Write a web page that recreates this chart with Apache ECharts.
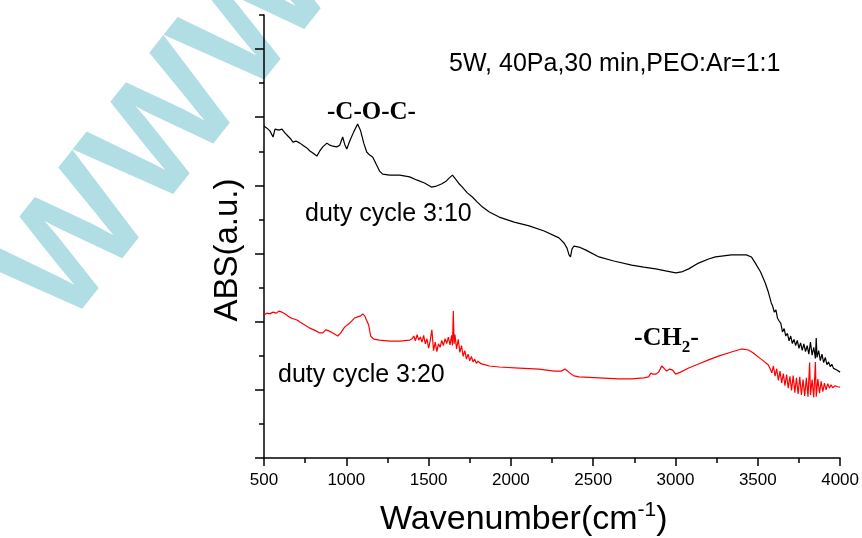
<!DOCTYPE html>
<html>
<head>
<meta charset="utf-8">
<script src="https://cdn.jsdelivr.net/npm/echarts@6/dist/echarts.min.js"></script>
<style>
  html, body { margin: 0; padding: 0; background: #fff; }
  #chart { width: 862px; height: 538px; }
</style>
</head>
<body>
<div id="chart"></div>
<script>
// 波数轴刻度
const xTicks = [500, 1000, 1500, 2000, 2500, 3000, 3500, 4000]
const yMajor = [0, 2, 4, 6, 8, 10, 12]
const yMinor = [1, 3, 5, 7, 9, 11, 13]

// duty cycle 3:10 (black)
const blackWave = [500, 518, 536, 555, 567, 591, 609, 627, 645, 663, 676, 694, 718, 736, 760, 779, 797, 821, 839, 857,
  882, 900, 918, 942, 960, 978, 990, 1003, 1021, 1045, 1069, 1087, 1106, 1124, 1142, 1160, 1178, 1202, 1221, 1263,
  1324, 1385, 1427, 1475, 1517, 1548, 1578, 1608, 1626, 1645, 1663, 1687, 1705, 1735, 1766, 1796, 1826, 1869, 1929, 2020,
  2111, 2202, 2292, 2323, 2341, 2353, 2362, 2371, 2383, 2414, 2456, 2535, 2625, 2734, 2807, 2880, 2940, 3001, 3037, 3080,
  3140, 3201, 3243, 3292, 3340, 3382, 3431, 3461, 3485, 3517, 3546, 3564, 3582,
  3590, 3600, 3610, 3620, 3630, 3640, 3650, 3660, 3670, 3680, 3690, 3700, 3710, 3720, 3730, 3740, 3750, 3760, 3770, 3780,
  3790, 3800, 3810, 3820, 3830, 3840, 3850, 3855, 3860, 3870, 3880, 3890, 3900, 3910, 3920, 3930, 3940, 3950, 3960, 3970,
  3980, 3990, 4000]
const blackAbs = [9.74, 9.68, 9.60, 9.42, 9.65, 9.62, 9.65, 9.54, 9.45, 9.36, 9.27, 9.30, 9.24, 9.18, 9.10, 9.01, 8.95, 8.86, 9.01, 9.13,
  9.24, 9.18, 9.15, 9.13, 9.18, 9.42, 9.21, 9.07, 9.30, 9.57, 9.80, 9.60, 9.24, 8.98, 8.89, 8.83, 8.66, 8.42, 8.33, 8.30,
  8.30, 8.25, 8.16, 8.07, 7.95, 7.98, 8.04, 8.13, 8.22, 8.30, 8.19, 8.04, 7.95, 7.78, 7.66, 7.51, 7.37, 7.22, 7.07, 6.92,
  6.81, 6.66, 6.46, 6.31, 6.16, 5.96, 5.90, 6.13, 6.22, 6.19, 6.10, 5.90, 5.78, 5.66, 5.60, 5.55, 5.49, 5.43, 5.46, 5.55,
  5.72, 5.84, 5.90, 5.93, 5.96, 5.96, 5.96, 5.90, 5.72, 5.46, 5.13, 4.87, 4.55,
  4.46, 4.28, 4.35, 4.10, 4.02, 3.95, 3.70, 3.80, 3.58, 3.66, 3.44, 3.58, 3.36, 3.48, 3.30, 3.45, 3.22, 3.38, 3.16, 3.35,
  3.12, 3.30, 3.05, 3.40, 3.02, 3.25, 2.92, 3.52, 2.95, 3.15, 2.86, 3.05, 2.80, 2.95, 2.74, 2.82, 2.68, 2.75, 2.63, 2.66,
  2.58, 2.56, 2.52]

// duty cycle 3:20 (red)
const redWave = [500, 518, 536, 555, 573, 591, 609, 627, 645, 663, 682, 700, 718, 748, 779, 815, 839, 857, 875, 894,
  918, 948, 966, 990, 1021, 1051, 1069, 1087, 1100, 1112, 1124, 1136, 1148, 1166, 1202, 1263, 1324, 1385,
  1400, 1410, 1420, 1430, 1440, 1450, 1460, 1470, 1480, 1490, 1500, 1510, 1520, 1530, 1540, 1550, 1560, 1570, 1580, 1590,
  1600, 1610, 1620, 1630, 1640, 1645, 1650, 1655, 1660, 1670, 1680, 1690, 1700, 1710, 1720, 1730, 1740, 1750, 1760, 1770,
  1780, 1790, 1800, 1820, 1840, 1869,
  1929, 2050, 2171, 2262, 2305, 2329, 2341, 2359, 2383, 2414, 2535, 2656, 2734, 2807, 2837, 2850, 2863, 2880, 2898, 2916,
  2929, 2946, 2965, 2983, 3001, 3031, 3080, 3140, 3201, 3261, 3340, 3401, 3443, 3473, 3504, 3534, 3564,
  3575, 3585, 3595, 3605, 3615, 3625, 3635, 3645, 3655, 3665, 3675, 3685, 3695, 3705, 3715, 3725, 3735, 3745, 3755, 3765,
  3775, 3785, 3795, 3805, 3815, 3820, 3830, 3840, 3850, 3855, 3865, 3875, 3885, 3895, 3905, 3915, 3925, 3935, 3945, 3955,
  3970, 3985, 4000]
const redAbs = [4.20, 4.25, 4.23, 4.28, 4.25, 4.31, 4.28, 4.23, 4.17, 4.11, 4.08, 4.05, 3.99, 3.90, 3.81, 3.73, 3.67, 3.67, 3.76, 3.73,
  3.67, 3.58, 3.67, 3.84, 3.96, 4.11, 4.14, 4.17, 4.23, 4.17, 4.20, 3.90, 3.58, 3.49, 3.46, 3.43, 3.43, 3.46,
  3.50, 3.58, 3.44, 3.62, 3.46, 3.55, 3.40, 3.60, 3.35, 3.50, 3.22, 3.45, 3.76, 3.15, 3.40, 3.12, 3.35, 3.25, 3.45, 3.30,
  3.50, 3.36, 3.55, 3.32, 3.60, 3.30, 4.31, 3.35, 3.62, 3.20, 3.48, 3.10, 3.30, 2.98, 3.15, 2.90, 3.05, 2.85, 2.98, 2.82,
  2.90, 2.78, 2.84, 2.76, 2.74, 2.70,
  2.67, 2.64, 2.61, 2.55, 2.55, 2.61, 2.58, 2.49, 2.41, 2.38, 2.35, 2.32, 2.32, 2.35, 2.38, 2.49, 2.46, 2.46, 2.52, 2.70,
  2.64, 2.55, 2.61, 2.58, 2.46, 2.52, 2.64, 2.76, 2.88, 2.99, 3.11, 3.20, 3.17, 3.08, 2.96, 2.85, 2.73,
  2.62, 2.50, 2.70, 2.40, 2.62, 2.28, 2.55, 2.20, 2.48, 2.12, 2.45, 2.05, 2.40, 1.98, 2.42, 1.92, 2.35, 1.88, 2.38, 1.85,
  2.30, 1.82, 2.35, 1.80, 2.80, 1.85, 2.30, 1.78, 2.82, 1.80, 2.32, 1.90, 2.25, 1.95, 2.20, 2.00, 2.18, 2.05, 2.15, 2.06,
  2.12, 2.09, 2.08]

const chart = echarts.init(document.getElementById('chart'))
const font = '"Liberation Sans", Arial, sans-serif'
const serif = '"Liberation Serif", "Times New Roman", serif'

const zip = (xs, ys) => xs.map((x, i) => [x, ys[i]])

const option = {
  animation: false,
  backgroundColor: '#fff',
  grid: { left: 264, right: 20, top: 15, bottom: 80 },
  xAxis: {
    type: 'value',
    min: 500,
    max: 4000,
    interval: 500,
    axisLine: { lineStyle: { color: '#000', width: 1.5 } },
    axisTick: { customValues: xTicks, length: 8, lineStyle: { color: '#000', width: 1.5 } },
    minorTick: { show: true, splitNumber: 2, length: 5, lineStyle: { color: '#000', width: 1.5 } },
    axisLabel: {
      customValues: xTicks,
      formatter: (v) => String(v),
      color: '#000',
      fontSize: 17,
      fontFamily: font,
      margin: 14
    },
    splitLine: { show: false }
  },
  yAxis: [
    {
      type: 'value',
      min: 0,
      max: 13,
      axisLine: { show: true, lineStyle: { color: '#000', width: 1.5 } },
      axisTick: { show: true, customValues: yMajor, length: 9, lineStyle: { color: '#000', width: 1.5 } },
      axisLabel: { show: false },
      splitLine: { show: false }
    },
    {
      type: 'value',
      min: 0,
      max: 13,
      position: 'left',
      axisLine: { show: false },
      axisTick: { show: true, customValues: yMinor, length: 5, lineStyle: { color: '#000', width: 1.5 } },
      axisLabel: { show: false },
      splitLine: { show: false }
    }
  ],
  graphic: [
    {
      type: 'text',
      z: -10,
      x: 168, y: 132,
      rotation: 0.9,
      style: {
        text: 'WWW',
        font: 'bold 155px "Liberation Sans", Arial, sans-serif',
        fill: '#b0dee4',
        textAlign: 'center',
        textVerticalAlign: 'middle'
      }
    },
    {
      type: 'text', x: 449, y: 77,
      style: { text: '5W, 40Pa,30 min,PEO:Ar=1:1', font: '25px ' + font, fill: '#000', textVerticalAlign: 'bottom' }
    },
    {
      type: 'text', x: 327, y: 113,
      style: { text: '-C-O-C-', font: 'bold 25px ' + serif, fill: '#000', textVerticalAlign: 'middle' }
    },
    {
      type: 'text', x: 305, y: 214,
      style: { text: 'duty cycle 3:10', font: '25px ' + font, fill: '#000', textVerticalAlign: 'middle' }
    },
    {
      type: 'text', x: 278, y: 375,
      style: { text: 'duty cycle 3:20', font: '25px ' + font, fill: '#000', textVerticalAlign: 'middle' }
    },
    {
      type: 'text', x: 634, y: 338,
      style: {
        text: '{a|-CH}{b|2}{a|-}',
        fill: '#000',
        textVerticalAlign: 'middle',
        rich: {
          a: { font: 'bold 26px ' + serif, fill: '#000', lineHeight: 36, verticalAlign: 'middle' },
          b: { font: 'bold 17px ' + serif, fill: '#000', lineHeight: 36, verticalAlign: 'bottom' }
        }
      }
    },
    {
      type: 'text', x: 380, y: 520,
      style: {
        text: '{a|Wavenumber(cm}{b|-1}{a|)}',
        fill: '#000',
        textVerticalAlign: 'middle',
        rich: {
          a: { font: '34px ' + font, fill: '#000', lineHeight: 40, verticalAlign: 'middle' },
          b: { font: '21px ' + font, fill: '#000', lineHeight: 40, verticalAlign: 'top' }
        }
      }
    },
    {
      type: 'text', x: 228, y: 250,
      rotation: Math.PI / 2,
      style: { text: 'ABS(a.u.)', font: '33px ' + font, fill: '#000', textAlign: 'center', textVerticalAlign: 'middle' }
    }
  ],
  series: [
    {
      name: 'duty cycle 3:10',
      type: 'line',
      data: zip(blackWave, blackAbs),
      showSymbol: false,
      lineStyle: { color: '#000', width: 1.2 },
      itemStyle: { color: '#000' },
      z: 5
    },
    {
      name: 'duty cycle 3:20',
      type: 'line',
      data: zip(redWave, redAbs),
      showSymbol: false,
      lineStyle: { color: '#ff0000', width: 1.2 },
      itemStyle: { color: '#ff0000' },
      z: 5
    }
  ]
}

option && chart.setOption(option)
</script>
</body>
</html>
